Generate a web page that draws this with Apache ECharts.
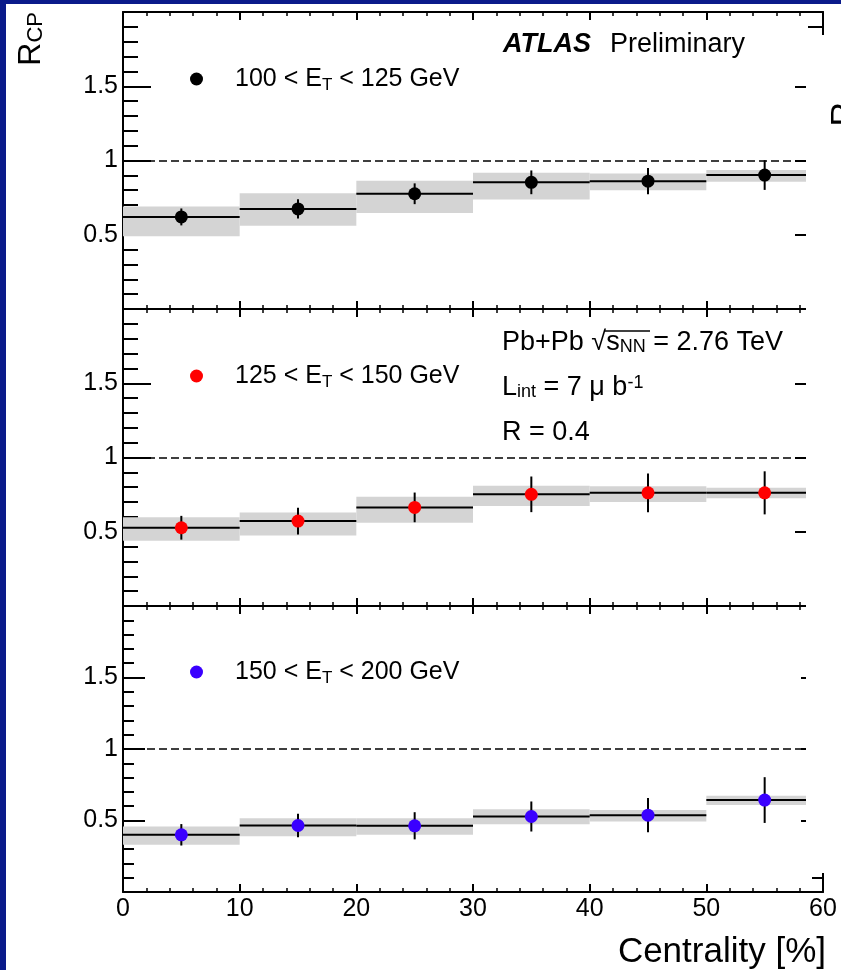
<!DOCTYPE html>
<html>
<head>
<meta charset="utf-8">
<script src="https://cdn.jsdelivr.net/npm/echarts@6.0.0/dist/echarts.min.js"></script>
<style>
  html, body { margin: 0; padding: 0; background: #ffffff; }
  #chart { width: 841px; height: 970px; }
</style>
</head>
<body>
<div id="chart"></div>
<script>
// Centrality bins [%]
const binLow    = [0, 10, 20, 30, 40, 50];
const binHigh   = [10, 20, 30, 40, 50, 60];
const binCenter = [5, 15, 25, 35, 45, 55];

// 100 < E_T < 125 GeV
const rcpLowEt    = [0.620, 0.674, 0.776, 0.853, 0.861, 0.902];
const statLowEt   = [0.057, 0.065, 0.070, 0.080, 0.088, 0.100];
const sysUpLowEt  = [0.690, 0.780, 0.864, 0.918, 0.913, 0.936];
const sysDnLowEt  = [0.490, 0.560, 0.647, 0.738, 0.800, 0.857];

// 125 < E_T < 150 GeV
const rcpMidEt    = [0.527, 0.572, 0.664, 0.752, 0.762, 0.762];
const statMidEt   = [0.080, 0.090, 0.100, 0.120, 0.130, 0.145];
const sysUpMidEt  = [0.597, 0.630, 0.736, 0.810, 0.807, 0.796];
const sysDnMidEt  = [0.440, 0.474, 0.561, 0.673, 0.700, 0.725];

// 150 < E_T < 200 GeV
const rcpHighEt   = [0.400, 0.465, 0.463, 0.528, 0.537, 0.643];
const statHighEt  = [0.075, 0.083, 0.095, 0.105, 0.120, 0.160];
const sysUpHighEt = [0.458, 0.516, 0.516, 0.578, 0.573, 0.673];
const sysDnHighEt = [0.331, 0.390, 0.400, 0.474, 0.493, 0.608];

// Panel labels (rich text) and marker colours
const panelNames  = ['et100_125', 'et125_150', 'et150_200'];
const panelLabels = ['100 < E{sub|T} < 125 GeV', '125 < E{sub|T} < 150 GeV', '150 < E{sub|T} < 200 GeV'];
const panelColors = ['#000000', '#ff0000', '#3a00ff'];

// Axis ranges
const xRange = [0, 60];
const yRange = [0, 2];
const axisTitleX = 'Centrality [%]';

const panels = [
  { rcp: rcpLowEt,  stat: statLowEt,  up: sysUpLowEt,  dn: sysDnLowEt },
  { rcp: rcpMidEt,  stat: statMidEt,  up: sysUpMidEt,  dn: sysDnMidEt },
  { rcp: rcpHighEt, stat: statHighEt, up: sysUpHighEt, dn: sysDnHighEt }
];

const FONT = "'Liberation Sans', Arial, Helvetica, sans-serif";
const BAND = '#d4d4d4';
const INK = '#000000';

const gridBoxes = [
  { left: 123, right: 18, top: 12,  height: 297 },
  { left: 123, right: 18, top: 309, height: 297 },
  { left: 123, right: 18, top: 606, height: 288 }
];
const yMajorLen = [28, 28, 22];
const yMinorLen = [15, 15, 11];

const xAxes = [];
const yAxes = [];
const series = [];
const legends = [];
const legendCenters = [79, 376, 672];

gridBoxes.forEach((g, i) => {
  ['bottom', 'top'].forEach(pos => {
    const isLabelled = (i === 2 && pos === 'bottom');
    xAxes.push({
      gridIndex: i, type: 'value', position: pos,
      min: xRange[0], max: xRange[1], interval: 10,
      axisLine: { onZero: false, lineStyle: { color: INK, width: 2 } },
      axisTick: { inside: true, length: 8, lineStyle: { color: INK, width: 2 } },
      minorTick: { show: true, splitNumber: 5, length: 4, lineStyle: { color: INK, width: 1.5 } },
      splitLine: { show: false },
      minorSplitLine: { show: false },
      axisLabel: { show: isLabelled, fontSize: 25, color: INK, fontFamily: FONT, margin: 5 },
      name: isLabelled ? axisTitleX : '',
      nameLocation: 'end',
      nameGap: 3,
      nameTextStyle: {
        fontSize: 35, color: INK, fontFamily: FONT,
        align: 'right', verticalAlign: 'top', padding: [43, 0, 0, 0]
      }
    });
  });
  ['left', 'right'].forEach(pos => {
    yAxes.push({
      gridIndex: i, type: 'value', position: pos,
      min: yRange[0], max: yRange[1], interval: 0.5,
      axisLine: { onZero: false, lineStyle: { color: INK, width: 2 } },
      axisTick: { inside: true, length: yMajorLen[i], lineStyle: { color: INK, width: 2 } },
      minorTick: { show: true, splitNumber: 5, length: yMinorLen[i], lineStyle: { color: INK, width: 2 } },
      splitLine: { show: false },
      minorSplitLine: { show: false },
      axisLabel: {
        show: pos === 'left', fontSize: 25, color: INK, fontFamily: FONT, margin: 5,
        formatter: v => (v > yRange[0] && v < yRange[1]) ? String(v) : ''
      }
    });
  });

  const p = panels[i];
  const xi = i * 2, yi = i * 2;

  // systematic uncertainty boxes
  series.push({
    type: 'custom', xAxisIndex: xi, yAxisIndex: yi, z: 1, silent: true,
    encode: { x: [0, 1], y: [2, 3] },
    data: binLow.map((lo, k) => [lo, binHigh[k], p.dn[k], p.up[k]]),
    renderItem: (params, api) => {
      const a = api.coord([api.value(0), api.value(3)]);
      const b = api.coord([api.value(1), api.value(2)]);
      return { type: 'rect', shape: { x: a[0], y: a[1], width: b[0] - a[0], height: b[1] - a[1] },
               style: { fill: BAND } };
    }
  });

  // bin-width lines and statistical error bars, plus the unity reference line
  series.push({
    type: 'custom', xAxisIndex: xi, yAxisIndex: yi, z: 3, silent: true,
    encode: { x: [0, 1, 2], y: 3 },
    data: binLow.map((lo, k) => [lo, binHigh[k], binCenter[k], p.rcp[k], p.stat[k]]),
    renderItem: (params, api) => {
      const v = api.value(3), e = api.value(4);
      const l = api.coord([api.value(0), v]);
      const r = api.coord([api.value(1), v]);
      const t = api.coord([api.value(2), v + e]);
      const b = api.coord([api.value(2), v - e]);
      return { type: 'group', children: [
        { type: 'line', shape: { x1: l[0], y1: l[1], x2: r[0], y2: r[1] }, style: { stroke: INK, lineWidth: 2 } },
        { type: 'line', shape: { x1: t[0], y1: t[1], x2: b[0], y2: b[1] }, style: { stroke: INK, lineWidth: 2 } }
      ] };
    },
    markLine: {
      silent: true, symbol: 'none', label: { show: false },
      lineStyle: { color: INK, width: 1.5, type: [8, 4] },
      data: [{ yAxis: 1 }]
    }
  });

  // central values
  series.push({
    name: panelNames[i], type: 'scatter', xAxisIndex: xi, yAxisIndex: yi, z: 4, silent: true,
    symbol: 'circle', symbolSize: 13,
    itemStyle: { color: panelColors[i], opacity: 1 },
    data: binCenter.map((c, k) => [c, p.rcp[k]])
  });

  legends.push({
    data: [panelNames[i]], left: 190, top: legendCenters[i] - 15, padding: 0,
    icon: 'circle', itemWidth: 13, itemHeight: 13, selectedMode: false,
    formatter: () => panelLabels[i],
    textStyle: {
      fontSize: 25, color: INK, fontFamily: FONT, lineHeight: 30, padding: [0, 0, 0, 27],
      rich: { sub: { fontSize: 17, fontFamily: FONT, color: INK, lineHeight: 14, verticalAlign: 'bottom' } }
    }
  });
});

const subRich = size => ({ fontSize: size, fontFamily: FONT, fill: INK, lineHeight: size - 3, verticalAlign: 'bottom' });
const supRich = size => ({ fontSize: size, fontFamily: FONT, fill: INK, lineHeight: size - 3, verticalAlign: 'top' });

const graphics = [
  // dark frame strips
  { type: 'rect', z: 0, shape: { x: 0, y: 0, width: 6, height: 970 }, style: { fill: '#0a1a8a' } },
  { type: 'rect', z: 0, shape: { x: 0, y: 0, width: 841, height: 4 }, style: { fill: '#0a1a8a' } },
  // neighbouring pad overlapping the right edge
  { type: 'rect', z: 100, shape: { x: 806, y: 35, width: 35, height: 838 }, style: { fill: '#ffffff' } },
  { type: 'text', z: 101, x: 828, y: 102, rotation: Math.PI / 2,
    style: { text: 'R', font: '34px ' + FONT, fill: INK, align: 'right', verticalAlign: 'top' } },
  // y axis title
  { type: 'text', z: 101, x: 31, y: 12, rotation: Math.PI / 2,
    style: { text: 'R{sub|CP}', font: '32px ' + FONT, fill: INK, align: 'right', verticalAlign: 'middle',
             rich: { sub: subRich(22) } } },
  // experiment label
  { type: 'text', z: 101, x: 503, y: 45,
    style: { text: 'ATLAS', font: 'italic bold 27px ' + FONT, fill: INK, verticalAlign: 'middle' } },
  { type: 'text', z: 101, x: 610, y: 45,
    style: { text: 'Preliminary', font: '27px ' + FONT, fill: INK, verticalAlign: 'middle' } },
  // collision system and selection
  { type: 'text', z: 101, x: 502, y: 343,
    style: { text: 'Pb+Pb \u221As{sub|NN} = 2.76 TeV', font: '27px ' + FONT, fill: INK, verticalAlign: 'middle',
             rich: { sub: subRich(18) } } },
  { type: 'line', z: 101, shape: { x1: 604, y1: 331, x2: 650, y2: 331 }, style: { stroke: INK, lineWidth: 1.5 } },
  { type: 'text', z: 101, x: 502, y: 388,
    style: { text: 'L{sub|int} = 7 \u03bc b{sup|-1}', font: '27px ' + FONT, fill: INK, verticalAlign: 'middle',
             rich: { sub: subRich(18), sup: supRich(18) } } },
  { type: 'text', z: 101, x: 502, y: 433,
    style: { text: 'R = 0.4', font: '27px ' + FONT, fill: INK, verticalAlign: 'middle' } }
];

const chart = echarts.init(document.getElementById('chart'), null, { renderer: 'canvas' });
chart.setOption({
  animation: false,
  backgroundColor: '#ffffff',
  grid: gridBoxes,
  xAxis: xAxes,
  yAxis: yAxes,
  legend: legends,
  series: series,
  graphic: { elements: graphics }
});
</script>
</body>
</html>
